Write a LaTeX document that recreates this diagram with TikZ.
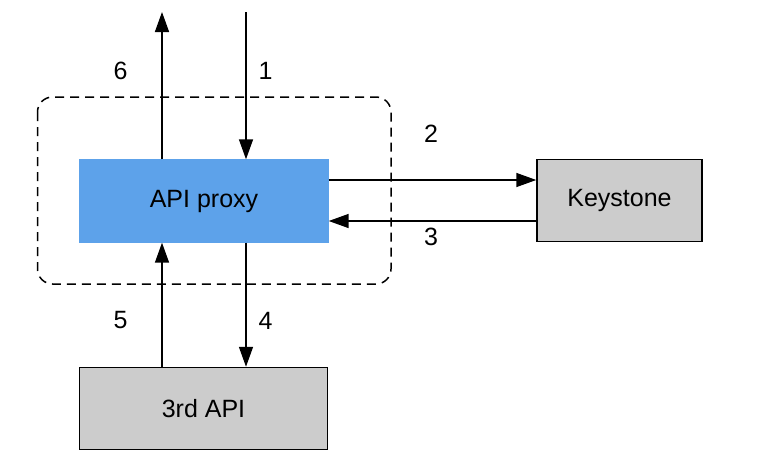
\documentclass[tikz,border=0pt]{standalone}
\usepackage{fontspec}
\setmainfont{Liberation Sans}
\usetikzlibrary{arrows.meta}
\begin{document}
\begin{tikzpicture}[x=1pt,y=-1pt,
  every node/.style={font=\fontsize{25}{29}\selectfont},
  arr/.style={line width=1.5pt,-{Triangle[length=20pt,width=14pt]}},
  bluebox/.style={fill=blue1,draw=blue1,minimum width=249pt,minimum height=83pt,inner sep=0pt},
  graybox/.style={fill=gray1,draw=black,line width=1.5pt,inner sep=0pt},
  lbl/.style={inner sep=0pt}]
\definecolor{blue1}{HTML}{5DA2EA}
\definecolor{gray1}{HTML}{CCCCCC}
\useasboundingbox (0,0) rectangle (768,466);
\draw[line width=1.5pt,dash pattern=on 9pt off 6pt,rounded corners=15pt] (37.5,97) rectangle (391,284);
\node[bluebox] (api) at (204,201) {\raisebox{-1.5pt}{API proxy}};
\node[graybox,minimum width=165pt,minimum height=82pt] (ks) at (619.5,200.5) {\raisebox{-1.5pt}{Keystone}};
\node[graybox,minimum width=248pt,minimum height=82pt] (third) at (203.5,408.5) {\raisebox{-1.5pt}{3rd API}};
\coordinate (top6) at (162,12);
\coordinate (top1) at (246,12);
\draw[arr] (api.north -| top6) -- (top6);
\draw[arr] (top1) -- (api.north -| top1);
\coordinate (y2) at (0,180);
\coordinate (y3) at (0,221);
\draw[arr] (api.east |- y2) -- (ks.west |- y2);
\draw[arr] (ks.west |- y3) -- (api.east |- y3);
\draw[arr] (api.south -| top1) -- (third.north -| top1);
\draw[arr] (third.north -| top6) -- (api.south -| top6);
\node[lbl] (l6) at (120.5,71) {6};
\node[lbl] (l1) at (265.5,71) {1};
\node[lbl] (l2) at (431,133.5) {2};
\node[lbl] (l3) at (431,237) {3};
\node[lbl] (l5) at (120.5,320.5) {5};
\node[lbl] (l4) at (265.5,320.5) {4};
\end{tikzpicture}
\end{document}
